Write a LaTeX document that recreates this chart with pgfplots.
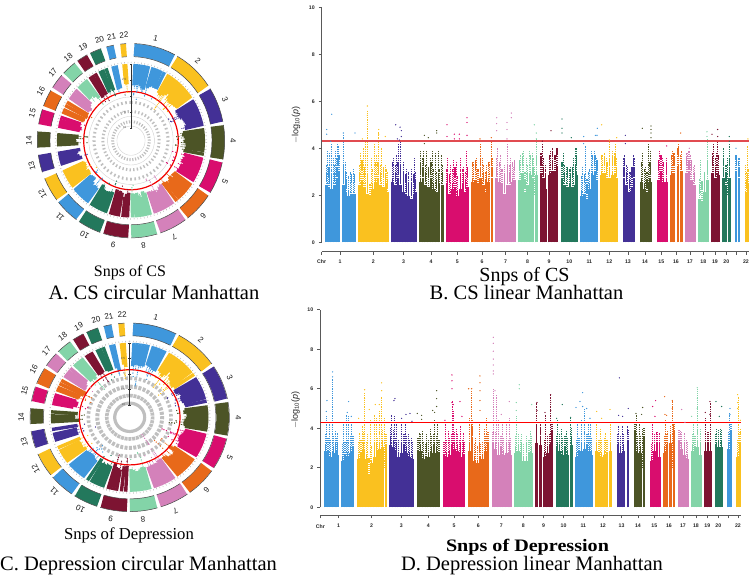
\documentclass[border=0pt]{standalone}
\usepackage{fontspec}
\setmainfont{Liberation Serif}
\newfontfamily\lab{Liberation Sans}
\usepackage{pgfplots}
\usepackage{pgfplotstable}
\pgfplotsset{compat=1.18}

\definecolor{col1}{RGB}{63,151,220}
\definecolor{col2}{RGB}{250,193,31}
\definecolor{col3}{RGB}{67,48,150}
\definecolor{col4}{RGB}{76,84,38}
\definecolor{col5}{RGB}{217,13,110}
\definecolor{col6}{RGB}{232,105,26}
\definecolor{col7}{RGB}{212,129,186}
\definecolor{col8}{RGB}{131,212,168}
\definecolor{col9}{RGB}{125,20,50}
\definecolor{col10}{RGB}{35,120,92}
\colorlet{col11}{col1}\colorlet{col12}{col2}\colorlet{col13}{col3}\colorlet{col14}{col4}
\colorlet{col15}{col5}\colorlet{col16}{col6}\colorlet{col17}{col7}\colorlet{col18}{col8}
\colorlet{col19}{col9}\colorlet{col20}{col10}\colorlet{col21}{col1}\colorlet{col22}{col2}

\pgfplotsset{
  colormap={manh}{rgb255=(63,151,220) rgb255=(250,193,31) rgb255=(67,48,150) rgb255=(76,84,38)
    rgb255=(217,13,110) rgb255=(232,105,26) rgb255=(212,129,186) rgb255=(131,212,168)
    rgb255=(125,20,50) rgb255=(35,120,92)},
  manh/.style={colormap name=manh, point meta min=0, point meta max=9},
  lin/.style={manh, scale only axis, anchor=south west, ymin=0, ymax=10,
    axis y line=left, axis x line=bottom, axis line style={-, draw=black!65, line width=0.9pt},
    ytick={0,2,4,6,8,10}, tick style={draw=black!65, line width=0.6pt}, tick align=outside,
    major tick length=3pt,
    /pgf/number format/assume math mode=true,
    ticklabel style={font=\lab\bfseries\fontsize{5.2}{6}\selectfont, text=black!85},
    yticklabel style={xshift=-0.5pt},
  },
  circ/.style={manh, scale only axis, anchor=center, hide axis, clip=false,
    xmin=-1, xmax=1, ymin=-1, ymax=1},
  outl/.style={scatter, only marks, mark=*, mark size=0.38pt, point meta=explicit,
    scatter/use mapped color={draw=mapped color, fill=mapped color}},
}

% chromosome bands (c, position)
\pgfplotstableread[row sep=\\]{c x\\
1 135\\1 150\\1 165\\1 181\\1 196\\1 212\\1 228\\2 234\\2 250\\2 265\\2 280\\2 296\\2 311\\2 327\\
3 334\\3 349\\3 364\\3 380\\3 395\\3 410\\4 417\\4 432\\4 447\\4 461\\4 476\\4 491\\
5 497\\5 511\\5 525\\5 539\\5 553\\5 567\\6 574\\6 587\\6 600\\6 614\\6 627\\6 640\\
7 646\\7 658\\7 671\\7 683\\7 696\\7 708\\8 715\\8 727\\8 738\\8 750\\8 761\\8 773\\
9 779\\9 793\\9 807\\9 821\\9 835\\10 842\\10 855\\10 868\\10 881\\10 894\\
11 901\\11 914\\11 928\\11 941\\11 955\\12 961\\12 974\\12 988\\12 1001\\12 1014\\
13 1028\\13 1041\\13 1053\\13 1066\\14 1081\\14 1093\\14 1104\\14 1116\\
15 1131\\15 1142\\15 1153\\15 1164\\16 1171\\16 1183\\16 1196\\16 1208\\
17 1215\\17 1226\\17 1237\\17 1248\\18 1254\\18 1265\\18 1276\\18 1287\\
19 1294\\19 1302\\19 1311\\19 1319\\20 1326\\20 1335\\20 1343\\20 1352\\
21 1364\\21 1372\\21 1381\\22 1395\\22 1401\\22 1408\\
}\bands

% angles for the circles
\pgfplotstableread[row sep=\\]{n a\\0 0\\1 6\\2 12\\3 18\\4 24\\5 30\\6 36\\7 42\\8 48\\9 54\\10 60\\11 66\\12 72\\13 78\\14 84\\15 90\\16 96\\17 102\\18 108\\19 114\\20 120\\21 126\\22 132\\23 138\\24 144\\25 150\\26 156\\27 162\\28 168\\29 174\\30 180\\31 186\\32 192\\33 198\\34 204\\35 210\\36 216\\37 222\\38 228\\39 234\\40 240\\41 246\\42 252\\43 258\\44 264\\45 270\\46 276\\47 282\\48 288\\49 294\\50 300\\51 306\\52 312\\53 318\\54 324\\55 330\\56 336\\57 342\\58 348\\59 354\\60 360\\}\ringt

% CS: solid columns
\pgfplotstableread[row sep=\\]{c x y\\
1 139 2.9\\1 147 2.8\\1 155 2.7\\1 163 2.9\\1 171 3.2\\1 177 3.3\\1 190 2.9\\1 198 2.6\\1 206 2.4\\1 214 2.5\\1 224 2.5\\
2 238 2.9\\2 246 3.1\\2 254 2.8\\2 262 2.5\\2 270 2.1\\2 278 2.7\\2 286 3.0\\2 294 3.0\\2 302 2.9\\2 310 2.8\\2 318 2.7\\2 323 2.6\\
3 338 3.0\\3 346 2.9\\3 354 3.0\\3 362 2.9\\3 370 2.6\\3 378 2.5\\3 386 2.4\\3 394 2.3\\3 402 2.5\\3 406 2.6\\
4 421 3.0\\4 429 3.2\\4 437 2.9\\4 445 2.8\\4 453 3.0\\4 461 2.7\\4 469 2.6\\4 477 2.7\\4 487 2.9\\
5 501 2.7\\5 509 2.5\\5 517 2.7\\5 525 2.8\\5 533 2.4\\5 541 2.7\\5 549 2.7\\5 557 2.6\\5 563 2.8\\
6 578 3.0\\6 586 3.1\\6 594 2.7\\6 602 3.2\\6 610 2.9\\6 618 2.6\\6 626 3.0\\6 636 3.2\\
7 650 3.2\\7 658 3.0\\7 666 2.7\\7 674 2.5\\7 682 2.9\\7 690 2.9\\7 698 3.0\\7 704 3.1\\
8 719 3.1\\8 727 3.4\\8 735 2.6\\8 743 2.9\\8 751 3.3\\8 759 3.2\\8 769 3.3\\
9 783 3.4\\9 791 3.2\\9 796 2.7\\9 809 3.3\\9 817 3.5\\9 825 3.3\\9 831 3.6\\
10 846 3.0\\10 854 2.9\\10 862 2.8\\10 870 2.7\\10 878 2.8\\10 886 2.9\\10 890 3.3\\
11 905 2.4\\11 913 2.5\\11 921 2.3\\11 929 2.7\\11 937 3.3\\11 945 3.3\\11 951 3.1\\
12 965 3.3\\12 973 3.4\\12 981 3.0\\12 989 3.2\\12 997 3.3\\12 1005 3.4\\12 1010 3.2\\
13 1032 3.2\\13 1040 2.9\\13 1048 2.6\\13 1056 2.8\\13 1062 3.2\\
14 1085 3.0\\14 1093 2.7\\14 1101 2.6\\14 1109 3.0\\14 1112 3.0\\
15 1135 3.1\\15 1143 3.3\\15 1151 3.0\\15 1160 3.0\\
16 1175 3.3\\16 1182 3.4\\16 1194 3.6\\16 1204 3.5\\
17 1219 3.4\\17 1227 3.5\\17 1235 3.1\\17 1244 2.9\\
18 1258 2.3\\18 1266 2.2\\18 1274 2.6\\18 1283 3.1\\
19 1298 3.4\\19 1306 3.2\\19 1315 3.3\\20 1330 3.2\\20 1338 2.9\\20 1348 3.2\\
21 1368 3.3\\21 1377 3.2\\22 1399 2.6\\22 1404 2.7\\
}\csbase

% CS: thin streaks above the columns
\pgfplotstableread[row sep=\\]{c x y\\
1 141 3.9\\1 149 3.8\\1 153 4.2\\1 159 3.6\\1 167 3.9\\1 172 4.2\\1 176 4.1\\1 190 4.6\\1 196 3.4\\1 210 3.0\\1 219 3.1\\
2 241 3.8\\2 249 4.0\\2 257 4.3\\2 262 5.6\\2 274 3.6\\2 282 4.2\\2 289 3.7\\2 296 4.7\\2 305 4.0\\2 316 3.3\\
3 340 3.6\\3 348 3.7\\3 355 4.2\\3 362 4.3\\3 370 3.4\\3 378 3.1\\3 386 3.0\\3 395 3.1\\3 404 3.6\\
4 422 3.9\\4 431 3.9\\4 440 3.9\\4 450 3.6\\4 458 3.9\\4 466 3.8\\4 474 3.9\\4 483 3.7\\
5 502 3.6\\5 512 3.3\\5 521 3.5\\5 530 3.4\\5 540 3.6\\5 550 3.2\\5 558 3.9\\
6 580 3.4\\6 590 3.6\\6 600 4.2\\6 608 3.6\\6 618 3.3\\6 628 3.4\\6 633 4.3\\
7 652 4.0\\7 662 3.7\\7 672 3.3\\7 681 4.2\\7 690 3.6\\7 700 3.2\\
8 720 3.7\\8 730 3.9\\8 740 3.6\\8 748 3.9\\8 756 3.8\\8 764 3.2\\8 769 4.4\\
9 787 4.2\\9 795 3.3\\9 811 3.9\\9 818 4.0\\9 828 3.8\\
10 850 3.8\\10 860 3.2\\10 872 3.2\\10 880 3.6\\10 887 4.0\\10 890 4.0\\
11 908 3.2\\11 915 4.1\\11 925 3.0\\11 935 3.9\\11 942 3.9\\11 948 3.6\\
12 968 3.7\\12 978 3.6\\12 988 4.3\\12 998 3.9\\12 1006 4.2\\
13 1034 3.7\\13 1042 3.2\\13 1052 3.0\\13 1060 3.7\\
14 1088 3.8\\14 1096 3.2\\14 1104 4.2\\14 1112 3.9\\
15 1139 3.9\\15 1147 3.6\\15 1158 3.6\\16 1176 3.9\\16 1180 3.7\\16 1196 4.2\\16 1202 3.7\\
17 1222 3.8\\17 1230 3.7\\17 1240 3.2\\18 1262 3.5\\18 1272 3.0\\18 1281 4.4\\
19 1300 4.2\\19 1308 3.8\\19 1313 4.3\\20 1331 4.0\\20 1342 3.6\\20 1347 4.2\\
21 1370 3.5\\21 1376 3.4\\22 1397 3.3\\22 1403 4.1\\
}\csfeat

% CS: single points
\pgfplotstableread[row sep=\\]{c x y\\
1 140 4.8\\1 140 4.6\\1 155 5.45\\1 190 4.65\\1 225 4.65\\1 152 4.3\\
2 262 5.8\\2 262 5.4\\2 296 4.8\\2 296 4.6\\2 316 4.5\\2 247 4.4\\
3 347 5.0\\3 360 4.9\\3 364 4.75\\3 352 4.4\\3 364 4.5\\3 358 4.35\\
4 433 4.55\\4 445 4.45\\4 470 4.75\\4 470 4.65\\4 433 4.2\\
5 501 5.0\\5 501 4.5\\5 523 4.6\\5 538 4.6\\5 561 5.3\\5 561 5.1\\5 561 4.55\\5 523 4.4\\5 538 4.4\\
6 600 4.4\\6 634 4.45\\7 650 5.3\\7 650 5.05\\7 650 4.75\\7 694 5.5\\7 694 5.3\\7 681 5.1\\7 681 4.8\\7 681 4.4\\
8 763 5.0\\8 769 4.65\\8 769 4.4\\9 813 4.75\\9 787 4.3\\
10 846 5.25\\10 846 4.85\\10 846 4.65\\10 874 4.45\\
11 911 4.5\\11 911 4.2\\11 952 4.85\\11 946 4.55\\11 951 4.55\\12 965 5.0\\12 988 4.35\\12 1010 4.45\\
13 1036 4.55\\13 1036 4.2\\14 1087 4.85\\14 1113 4.95\\14 1113 4.8\\14 1113 4.65\\14 1113 4.45\\
15 1160 4.1\\16 1202 4.65\\16 1194 4.3\\17 1228 4.0\\18 1281 4.7\\18 1281 4.5\\
19 1296 4.6\\19 1313 4.8\\19 1313 4.5\\20 1348 4.5\\20 1348 4.3\\21 1368 4.0\\22 1404 4.4\\
}\csout

% Depression: solid columns
\pgfplotstableread[row sep=\\]{c x y\\
1 136 3.3\\1 144 3.1\\1 152 3.0\\1 160 3.2\\1 168 3.1\\1 173 3.1\\1 187 2.8\\1 195 2.9\\1 203 3.0\\1 211 3.2\\1 219 3.2\\
2 235 2.9\\2 243 3.0\\2 251 3.4\\2 259 2.9\\2 267 2.1\\2 275 2.7\\2 283 3.0\\2 291 3.1\\2 299 3.4\\2 307 3.5\\2 318 3.3\\
3 332 3.6\\3 340 3.5\\3 348 3.1\\3 356 3.0\\3 364 3.2\\3 372 3.3\\3 380 3.2\\3 388 3.0\\3 398 2.9\\
4 414 3.1\\4 422 3.3\\4 430 2.9\\4 438 2.8\\4 446 3.0\\4 454 3.2\\4 462 3.3\\4 470 3.2\\4 477 3.0\\
5 492 2.9\\5 500 3.0\\5 508 3.1\\5 516 3.3\\5 524 3.4\\5 532 3.3\\5 540 3.0\\5 548 3.0\\5 552 2.9\\
6 568 3.3\\6 576 4.0\\6 584 2.8\\6 592 2.7\\6 600 2.8\\6 608 2.9\\6 616 3.2\\6 624 3.4\\
7 639 3.4\\7 647 3.4\\7 655 3.1\\7 663 3.2\\7 671 3.1\\7 679 3.2\\7 687 3.0\\7 692 3.1\\
8 707 3.2\\8 715 3.3\\8 723 3.0\\8 731 2.8\\8 739 2.8\\8 747 3.0\\8 755 3.2\\
9 770 3.7\\9 781 3.6\\9 794 3.0\\9 802 3.2\\9 810 3.3\\9 816 3.9\\
10 831 3.2\\10 839 3.3\\10 847 3.1\\10 855 3.2\\10 863 3.1\\10 874 3.6\\
11 889 3.0\\11 897 3.1\\11 905 3.3\\11 913 3.4\\11 921 3.3\\11 929 3.2\\11 934 3.1\\
12 949 3.3\\12 957 3.0\\12 965 3.0\\12 973 3.1\\12 981 3.0\\12 992 3.3\\
13 1014 3.3\\13 1022 3.2\\13 1030 3.3\\13 1044 3.5\\14 1065 3.9\\14 1073 3.2\\14 1081 3.2\\14 1092 3.6\\
15 1115 2.8\\15 1123 3.3\\15 1131 3.4\\15 1139 3.0\\16 1154 3.2\\16 1161 3.3\\16 1172 3.7\\16 1182 3.9\\
17 1197 3.5\\17 1205 3.4\\17 1213 3.1\\17 1222 2.9\\18 1237 3.3\\18 1245 3.2\\18 1253 3.5\\18 1261 3.1\\
19 1276 3.3\\19 1284 3.4\\19 1291 3.3\\20 1308 3.3\\20 1316 3.5\\20 1325 3.5\\
21 1345 3.4\\21 1353 3.9\\22 1373 3.0\\22 1380 3.4\\
}\dpbase

% Depression: thin streaks
\pgfplotstableread[row sep=\\]{c x y\\
1 139 4.6\\1 148 4.2\\1 158 6.5\\1 165 3.9\\1 172 3.8\\1 190 4.3\\1 199 4.7\\1 205 4.6\\1 214 4.2\\
2 238 3.8\\2 246 4.1\\2 254 5.8\\2 262 3.7\\2 272 4.4\\2 282 4.7\\2 290 4.5\\2 298 4.9\\2 304 5.6\\2 312 4.5\\
3 335 4.7\\3 342 4.6\\3 350 4.2\\3 365 4.3\\3 375 4.2\\3 385 3.7\\3 395 3.5\\
4 418 3.8\\4 428 3.9\\4 440 3.7\\4 452 4.0\\4 462 4.4\\4 472 4.2\\
5 495 4.3\\5 505 3.9\\5 516 5.4\\5 520 4.9\\5 528 4.0\\5 540 4.1\\5 550 3.8\\
6 568 4.5\\6 575 5.9\\6 585 3.5\\6 597 4.2\\6 612 4.0\\6 620 4.5\\
7 640 6.0\\7 648 5.7\\7 655 4.4\\7 668 4.2\\7 680 4.3\\7 688 4.5\\
8 709 4.6\\8 725 3.7\\8 740 3.6\\8 750 3.9\\9 770 5.3\\9 781 4.2\\9 795 4.7\\9 812 5.7\\
10 832 4.4\\10 845 4.0\\10 858 3.9\\10 870 4.5\\11 892 4.3\\11 905 4.4\\11 912 5.0\\11 925 4.3\\11 932 4.2\\
12 950 4.2\\12 962 4.0\\12 975 3.8\\12 990 4.3\\13 1016 4.1\\13 1028 4.1\\13 1042 4.1\\
14 1068 4.7\\14 1078 4.2\\14 1088 4.0\\15 1118 4.3\\15 1128 3.8\\15 1138 3.8\\
16 1155 4.4\\16 1163 3.9\\16 1176 5.4\\16 1180 4.2\\17 1200 3.9\\17 1212 3.8\\17 1220 3.4\\
18 1240 4.3\\18 1252 6.0\\18 1260 4.0\\19 1277 4.5\\19 1290 5.3\\20 1310 4.0\\20 1320 4.0\\
21 1349 4.8\\22 1375 5.6\\22 1380 4.0\\
}\dpfeat

% Depression: single points
\pgfplotstableread[row sep=\\]{c x y\\
1 139 4.85\\1 141 5.4\\1 158 6.85\\1 158 6.6\\1 206 5.35\\1 202 4.8\\1 214 4.6\\
2 254 5.95\\2 254 5.5\\2 268 4.95\\2 286 5.2\\2 305 6.3\\2 305 5.9\\2 298 5.2\\2 236 4.5\\
3 345 5.5\\3 342 5.4\\3 378 4.7\\3 390 4.75\\3 365 4.5\\3 396 4.35\\
4 412 4.75\\4 425 4.65\\4 425 4.45\\4 458 4.9\\4 470 5.9\\4 470 5.5\\4 470 5.1\\4 464 4.8\\
5 516 6.7\\5 516 6.4\\5 516 6.0\\5 516 5.3\\5 520 5.2\\5 540 5.35\\5 495 4.4\\5 546 4.6\\
6 566 6.0\\6 600 6.65\\6 600 6.3\\6 600 5.9\\6 600 5.4\\6 600 4.9\\6 575 6.0\\
7 640 8.6\\7 640 8.3\\7 640 7.9\\7 640 7.5\\7 640 7.2\\7 640 6.9\\7 640 6.75\\7 645 5.9\\7 688 5.35\\7 664 4.7\\
8 718 6.2\\8 718 6.0\\8 709 5.3\\8 709 4.9\\8 755 5.2\\9 771 5.3\\9 771 4.9\\9 795 4.8\\9 812 5.7\\9 812 5.3\\9 812 4.9\\
10 847 5.2\\10 872 4.55\\10 830 4.5\\11 908 5.8\\11 908 5.1\\11 900 5.35\\11 888 5.05\\11 920 5.0\\11 930 4.5\\
12 950 4.85\\12 990 4.95\\12 965 4.5\\13 1018 6.55\\13 1016 4.65\\13 1028 4.6\\13 1045 5.0\\
14 1088 5.05\\14 1085 4.7\\14 1068 4.75\\15 1127 5.4\\15 1118 5.1\\15 1125 4.6\\
16 1154 5.6\\16 1177 5.4\\16 1177 5.0\\16 1155 4.7\\16 1160 4.65\\17 1205 4.95\\17 1215 4.3\\
18 1252 6.05\\18 1252 5.5\\18 1252 5.0\\18 1235 4.6\\19 1276 4.8\\19 1290 5.35\\19 1290 4.7\\
20 1308 5.35\\20 1325 5.1\\20 1318 4.6\\21 1350 5.0\\21 1350 4.7\\22 1373 5.7\\22 1373 5.3\\22 1373 5.0\\22 1381 4.4\\
}\dpout

\newcommand\chrmeta{mod(\thisrow{c}-1,10)}
% linear panel: #1 columns, #2 streaks, #3 points
\newcommand\linplots[3]{
  \addplot[line width=2.85pt, point meta=explicit, quiver={u=0, v=\thisrow{y}-0.45, colored=mapped color}]
    table[x=x, y expr=0, meta expr=\chrmeta] {#1};
  \addplot[line width=1.5pt, dash pattern=on 1.5pt off 0.6pt, point meta=explicit, quiver={u=0, v=1.0, colored=mapped color}]
    table[x=x, y expr=\thisrow{y}-0.6, meta expr=\chrmeta] {#1};
  \addplot[line width=0.8pt, dash pattern=on 1pt off 0.8pt, point meta=explicit, quiver={u=0, v=\thisrow{y}-2, colored=mapped color}]
    table[x=x, y expr=2, meta expr=\chrmeta] {#2};
  \addplot[outl] table[x=x, y=y, meta expr=\chrmeta] {#3};
}
% circular panel: #1 angle function, #2 columns, #3 streaks, #4 points
\newcommand\circplots[4]{
  \pgfplotsinvokeforeach{1,...,22}{
    \addplot[col##1, line width=12.6pt, restrict expr to domain={\thisrow{c}}{##1:##1}]
      table[x expr={0.9325*sin(angA(\thisrow{x}))}, y expr={0.9325*cos(angA(\thisrow{x}))}] {\bands};
    \addplot[black!75, line width=0.5pt, restrict expr to domain={\thisrow{c}}{##1:##1}]
      table[x expr={sin(angA(\thisrow{x}))}, y expr={cos(angA(\thisrow{x}))}] {\bands};
    \addplot[black!75, line width=0.5pt, restrict expr to domain={\thisrow{c}}{##1:##1}]
      table[x expr={0.865*sin(angA(\thisrow{x}))}, y expr={0.865*cos(angA(\thisrow{x}))}] {\bands};
  }
  \addplot[black!35, line width=1.4pt, dash pattern=on 0.4pt off 3pt]
    table[x expr={0.805*sin(\thisrow{a})}, y expr={0.805*cos(\thisrow{a})}] {\ringt};
  \addplot[line width=3.4pt, point meta=explicit,
      quiver={u={(rr(\thisrow{y}+0.45)-0.79)*sin(#1(\thisrow{x}))}, v={(rr(\thisrow{y}+0.45)-0.79)*cos(#1(\thisrow{x}))}, colored=mapped color}]
    table[x expr={0.79*sin(#1(\thisrow{x}))}, y expr={0.79*cos(#1(\thisrow{x}))}, meta expr=\chrmeta] {#2};
  \addplot[line width=0.8pt, dash pattern=on 1pt off 0.8pt, point meta=explicit,
      quiver={u={(rr(\thisrow{y})-rr(2))*sin(#1(\thisrow{x}))}, v={(rr(\thisrow{y})-rr(2))*cos(#1(\thisrow{x}))}, colored=mapped color}]
    table[x expr={rr(2)*sin(#1(\thisrow{x}))}, y expr={rr(2)*cos(#1(\thisrow{x}))}, meta expr=\chrmeta] {#3};
  \addplot[outl] table[x expr={rr(\thisrow{y})*sin(#1(\thisrow{x}))}, y expr={rr(\thisrow{y})*cos(#1(\thisrow{x}))}, meta expr=\chrmeta] {#4};
}
\newcommand\ring[2]{\addplot[#2] table[x expr={#1*sin(\thisrow{a})}, y expr={#1*cos(\thisrow{a})}] {\ringt};}
% value axis inside the circle
\newcommand\radaxis{
  \addplot[black!80, line width=0.8pt] coordinates {(0,0.79)(0,0.13)};
  \addplot[only marks, mark=-, mark size=1.3pt, black!80] coordinates {(0,0.79)(0,0.625)(0,0.46)(0,0.295)(0,0.13)};
  \node[font=\lab\fontsize{3}{3}\selectfont, text=black!70, anchor=east] at (axis cs:-0.012,0.625) {2.5};
  \node[font=\lab\fontsize{3}{3}\selectfont, text=black!70, anchor=east] at (axis cs:-0.012,0.46) {5};
  \node[font=\lab\fontsize{3}{3}\selectfont, text=black!70, anchor=east] at (axis cs:-0.012,0.295) {7.5};
  \node[font=\lab\fontsize{3}{3}\selectfont, text=black!70, anchor=east] at (axis cs:-0.012,0.14) {10};
}
% chromosome names round a circle: #1 cx, #2 cy, #3 Rx, #4 Ry
\newcommand\chrnames[4]{
  \foreach \c/\a in {1/14,2/41,3/67,4/90,5/113,6/135,7/155,8/173,9/190,10/207,11/224,12/240,13/256,14/270,15/285,16/298,17/310,18/322,19/332,20/342,21/349,22/356}
    \node[font=\lab\fontsize{8}{8}\selectfont, text=black!90, rotate=-\a, inner sep=0pt] at ({#1+1.09*#3*sin(\a)},{#2+1.09*#4*cos(\a)}) {\c};
}

\begin{document}
\begin{tikzpicture}[x=1pt, y=1pt, declare function={
    angA(\x)=(\x-135)*0.27887+2;
    angD(\x)=(\x-132)*0.28355+2;
    rr(\v)=0.79-0.066*\v;}]
\path[use as bounding box] (0,0) rectangle (753,578);

% A
\begin{axis}[circ, at={(131pt,437.3pt)}, width=187.4pt, height=194.4pt]
  \circplots{angA}{\csbase}{\csfeat}{\csout}
  \ring{0.45}{black!18, line width=0.4pt}
  \ring{0.25}{black!18, line width=0.4pt}
  \ring{0.15}{black!18, line width=0.4pt}
  \ring{0.395}{black!25, line width=3pt, dash pattern=on 1.6pt off 2.6pt}
  \ring{0.30}{black!25, line width=3pt, dash pattern=on 1.4pt off 2.2pt}
  \ring{0.195}{black!25, line width=3pt, dash pattern=on 1.2pt off 1.6pt}
  \ring{0.505}{red!95!black, line width=1.2pt}
  \radaxis
\end{axis}
\chrnames{131}{437.3}{93.7}{97.2}

% C
\begin{axis}[circ, at={(129.7pt,160.7pt)}, width=199.4pt, height=188.6pt]
  \circplots{angD}{\dpbase}{\dpfeat}{\dpout}
  \ring{0.15}{black!25, line width=3.2pt}
  \ring{0.23}{black!25, line width=3.6pt, dash pattern=on 3pt off 0.8pt}
  \ring{0.325}{black!25, line width=4pt, dash pattern=on 3pt off 1.4pt}
  \ring{0.415}{black!25, line width=3.6pt, dash pattern=on 2.6pt off 2pt}
  \ring{0.505}{red!95!black, line width=1.2pt}
  \radaxis
\end{axis}
\chrnames{129.7}{160.7}{99.7}{94.3}

% B
\begin{axis}[lin, at={(321.7pt,335.7pt)}, width=427.6pt, height=235pt, xmin=125, xmax=1408,
    x axis line style={yshift=-9.4pt}, xtick style={yshift=-9.4pt}, xticklabel style={yshift=-11.4pt},
    xtick={125,180,280,371,453,532,606,677,743,807,868,928,988,1044,1095,1144,1188,1230,1270,1305,1339,1370,1398},
    xticklabels={Chr,1,2,3,4,5,6,7,8,9,10,11,12,13,14,15,16,17,18,19,20,,22}]
  \linplots{\csbase}{\csfeat}{\csout}
  \addplot[color={rgb,255:red,225;green,75;blue,80}, line width=1.4pt] coordinates {(125,4.31)(1408,4.31)};
\end{axis}

% D
\begin{axis}[lin, at={(320.3pt,70.7pt)}, width=421pt, height=197.6pt, xmin=121, xmax=1384,
    x axis line style={yshift=-8pt}, xtick style={yshift=-8pt}, xticklabel style={yshift=-10.5pt},
    xtick={121,176,275,364,445,522,595,664,730,791,851,910,969,1025,1074,1123,1167,1209,1248,1282,1315,1345,1374},
    xticklabels={Chr,1,2,3,4,5,6,7,8,9,10,11,12,13,14,15,16,17,18,19,20,,22}]
  \linplots{\dpbase}{\dpfeat}{\dpout}
  \addplot[red, line width=1pt] coordinates {(121,4.3)(1384,4.3)};
\end{axis}

% value axis titles
\node[rotate=90, font=\lab\fontsize{9}{10}\selectfont, text=black!85] at (296,453) {$-$log\textsubscript{10}(\textit{p})};
\node[rotate=90, font=\lab\fontsize{9}{10}\selectfont, text=black!85] at (295.5,168) {$-$log\textsubscript{10}(\textit{p})};

% captions
\node[font=\fontsize{16}{17}\selectfont] at (130,305) {Snps of CS};
\node[font=\fontsize{20.5}{21}\selectfont] at (154,285) {A. CS circular Manhattan};
\node[font=\fontsize{20}{21}\selectfont] at (524.5,301) {Snps of CS};
\node[font=\fontsize{20.5}{21}\selectfont] at (526.5,285) {B. CS linear Manhattan};
\node[font=\fontsize{16.7}{17}\selectfont] at (129,43) {Snps of Depression};
\node[font=\fontsize{20.5}{21}\selectfont] at (138.5,12) {C. Depression circular Manhattan};
\node[font=\bfseries\fontsize{17.5}{18}\selectfont, xscale=1.15] at (527.5,31) {Snps of Depression};
\node[font=\fontsize{20.5}{21}\selectfont] at (532,12) {D. Depression linear Manhattan};
\end{tikzpicture}
\end{document}
